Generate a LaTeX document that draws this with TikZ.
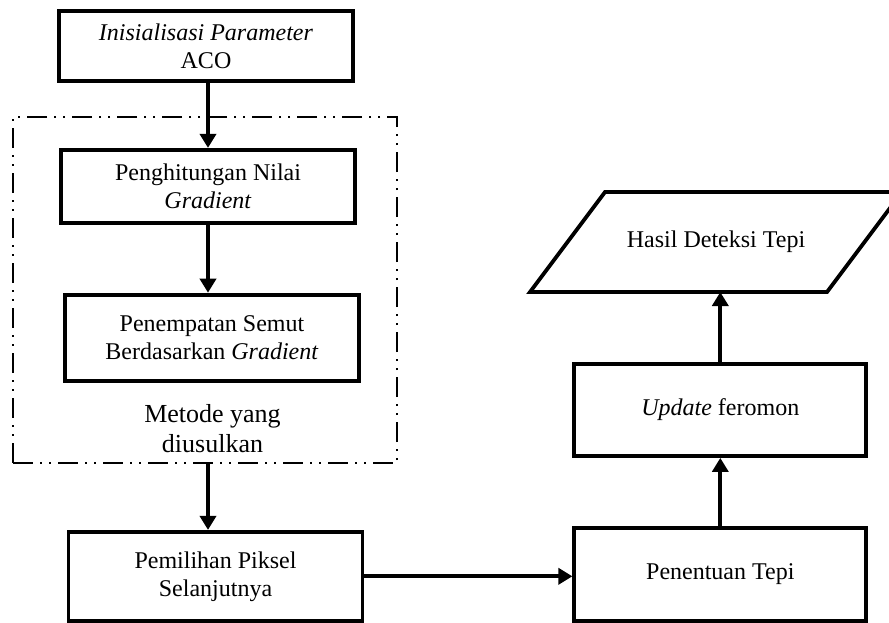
\documentclass[tikz,border=0pt]{standalone}
\usepackage{fontspec}
\setmainfont{Liberation Serif}
\usetikzlibrary{positioning,arrows.meta}

\begin{document}
\begin{tikzpicture}[x=0.5pt, y=-0.5pt,
    procbox/.style={rectangle, draw=black, line width=1.9pt,
                    minimum width=147pt, align=center,
                    font=\fontsize{12}{14}\selectfont},
    iotext/.style={rectangle, outer sep=0pt, minimum width=148.5pt, minimum height=50pt,
                   align=center, font=\fontsize{12}{14}\selectfont},
    iobox/.style={line width=1.9pt, line join=miter},
    groupbox/.style={rectangle, draw=black, line width=0.9pt,
                     dash pattern=on 10pt off 3.5pt on 1pt off 3.5pt on 1pt off 3.5pt},
    arrow/.style={-{Triangle[length=7pt,width=8pt]}, line width=1.9pt}
]
    \clip (0,0) rectangle (889,622);
    % kolom kiri
    \node[procbox, minimum height=35pt] (init) at (206,46) {\textit{Inisialisasi Parameter}\\ACO};
    \node[procbox, minimum height=36.5pt, below=32.5pt of init, xshift=1pt] (grad) {Penghitungan Nilai\\\textit{Gradient}};
    \node[procbox, minimum height=43pt, below=34pt of grad, xshift=2pt] (semut) {Penempatan Semut\\Berdasarkan \textit{Gradient}};
    \node[groupbox, minimum width=192pt, minimum height=173pt] (group) at (205,290) {};
    \node[align=center, font=\fontsize{13}{15}\selectfont] (metode) at (212.5,429) {Metode yang\\diusulkan};
    \node[procbox, minimum height=44.5pt, below=33pt of group, xshift=5.25pt] (pilih) {Pemilihan Piksel\\Selanjutnya};
    % kolom kanan
    \node[procbox, minimum width=146pt, minimum height=46.5pt, right=104pt of pilih, yshift=1pt] (tepi) {Penentuan Tepi};
    \node[procbox, minimum width=146pt, minimum height=46pt, above=34pt of tepi] (update) {\textit{Update} feromon};
    \node[iotext] (hasil) at (716,242) {Hasil Deteksi Tepi};
    \draw[iobox] ([xshift=-18.75pt]hasil.south west) -- ([xshift=-18.75pt]hasil.south east)
        -- ([xshift=18.75pt]hasil.north east) -- ([xshift=18.75pt]hasil.north west) -- cycle;

    \draw[arrow] (init.south -| grad) -- (grad.north);
    \draw[arrow] (grad.south) -- (grad.south |- semut.north);
    \draw[arrow] (group.south -| grad) -- (pilih.north -| grad);
    \draw[arrow] (pilih.east) -- (pilih.east -| tepi.west);
    \draw[arrow] (tepi) -- (update);
    \draw[arrow] (update) -- (update |- hasil.south);
\end{tikzpicture}
\end{document}
